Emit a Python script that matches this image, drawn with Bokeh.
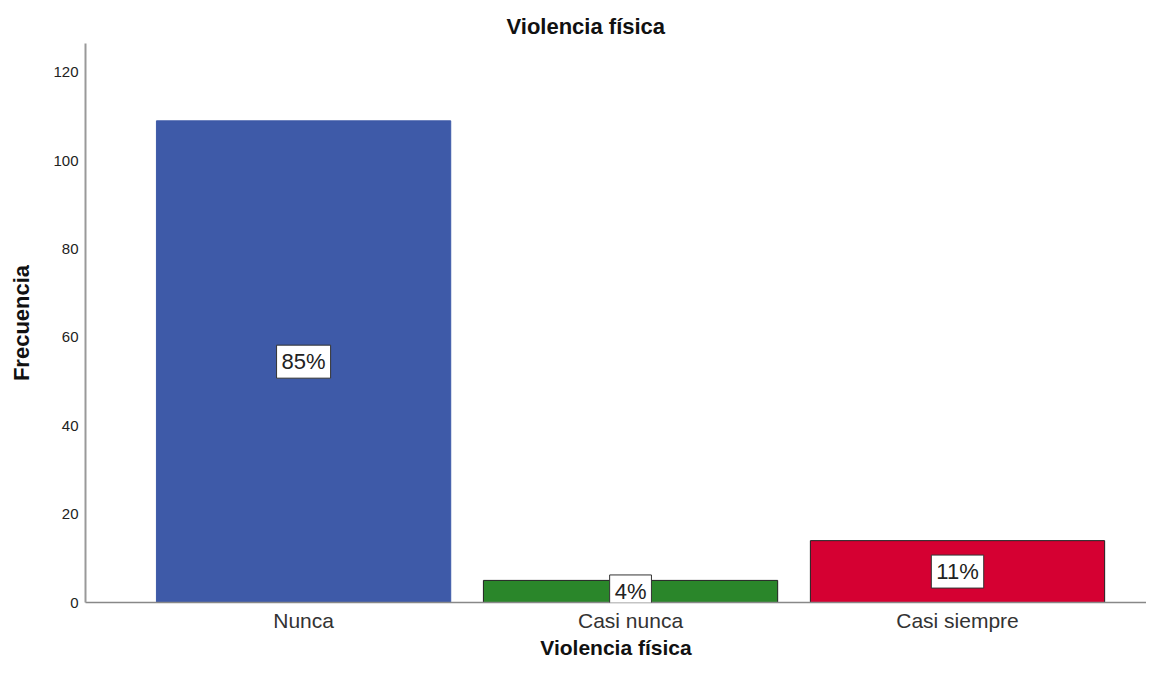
from bokeh.plotting import figure
from bokeh.models import ColumnDataSource, Label, Range1d, FixedTicker
from bokeh.embed import file_html
from bokeh.resources import INLINE

# ---- data ----
categories = ["Nunca", "Casi nunca", "Casi siempre"]
frecuencia = [109, 5, 14]
porcentajes = ["85%", "4%", "11%"]
colores = ["#3E5AA8", "#2A862A", "#D50032"]
bordes = ["#3E5AA8", "#1f1f1f", "#1f1f1f"]
y_ticks = [0, 20, 40, 60, 80, 100, 120]

FONT = "Liberation Sans"

xs = list(range(len(categories)))
source = ColumnDataSource(dict(x=xs, top=frecuencia, color=colores, line=bordes))

p = figure(width=1146, height=663, output_backend="svg", toolbar_location=None,
           x_range=Range1d(-0.667, 2.578), y_range=Range1d(0, 126.5),
           min_border_left=85, min_border_right=0, min_border_top=43, min_border_bottom=61,
           title="Violencia física")

p.vbar(x="x", top="top", width=0.9, bottom=0, source=source,
       fill_color="color", line_color="line", line_width=1)

for xi, v, lab in zip(xs, frecuencia, porcentajes):
    p.add_layout(Label(x=xi, y=v / 2, text=lab, text_align="center", text_baseline="middle",
                       text_font=FONT, text_font_size="22px", text_color="#222222",
                       background_fill_color="white", border_line_color="#333333",
                       border_line_width=1, padding=(5, 4)))

p.title.text_font = FONT
p.title.text_font_size = "22px"
p.title.text_font_style = "bold"
p.title.text_color = "#111111"
p.title.align = "left"
p.title.offset = 421

p.xgrid.visible = False
p.ygrid.visible = False
p.outline_line_color = None
p.background_fill_color = "white"
p.border_fill_color = "white"

# x axis
p.xaxis.ticker = FixedTicker(ticks=xs)
p.xaxis.major_label_overrides = {i: c for i, c in zip(xs, categories)}
p.xaxis.major_tick_line_color = None
p.xaxis.major_tick_out = 0
p.xaxis.major_tick_in = 0
p.xaxis.minor_tick_line_color = None
p.xaxis.axis_line_color = "#888888"
p.xaxis.axis_line_width = 1.5
p.xaxis.major_label_text_font = FONT
p.xaxis.major_label_text_font_size = "21px"
p.xaxis.major_label_text_color = "#333333"
p.xaxis.major_label_standoff = 6
p.xaxis.axis_label = "Violencia física"
p.xaxis.axis_label_text_font = FONT
p.xaxis.axis_label_text_font_size = "21px"
p.xaxis.axis_label_text_font_style = "bold"
p.xaxis.axis_label_text_color = "#111111"
p.xaxis.axis_label_standoff = 1

# y axis
p.yaxis.ticker = FixedTicker(ticks=y_ticks)
p.yaxis.major_tick_line_color = None
p.yaxis.major_tick_out = 0
p.yaxis.major_tick_in = 0
p.yaxis.minor_tick_line_color = None
p.yaxis.axis_line_color = "#999999"
p.yaxis.axis_line_width = 2
p.yaxis.major_label_text_font = FONT
p.yaxis.major_label_text_font_size = "15px"
p.yaxis.major_label_text_color = "#222222"
p.yaxis.major_label_standoff = 7
p.yaxis.axis_label = "Frecuencia"
p.yaxis.axis_label_text_font = FONT
p.yaxis.axis_label_text_font_size = "22px"
p.yaxis.axis_label_text_font_style = "bold"
p.yaxis.axis_label_text_color = "#111111"
p.yaxis.axis_label_standoff = 16

open("out.html", "w").write(file_html(p, INLINE))
